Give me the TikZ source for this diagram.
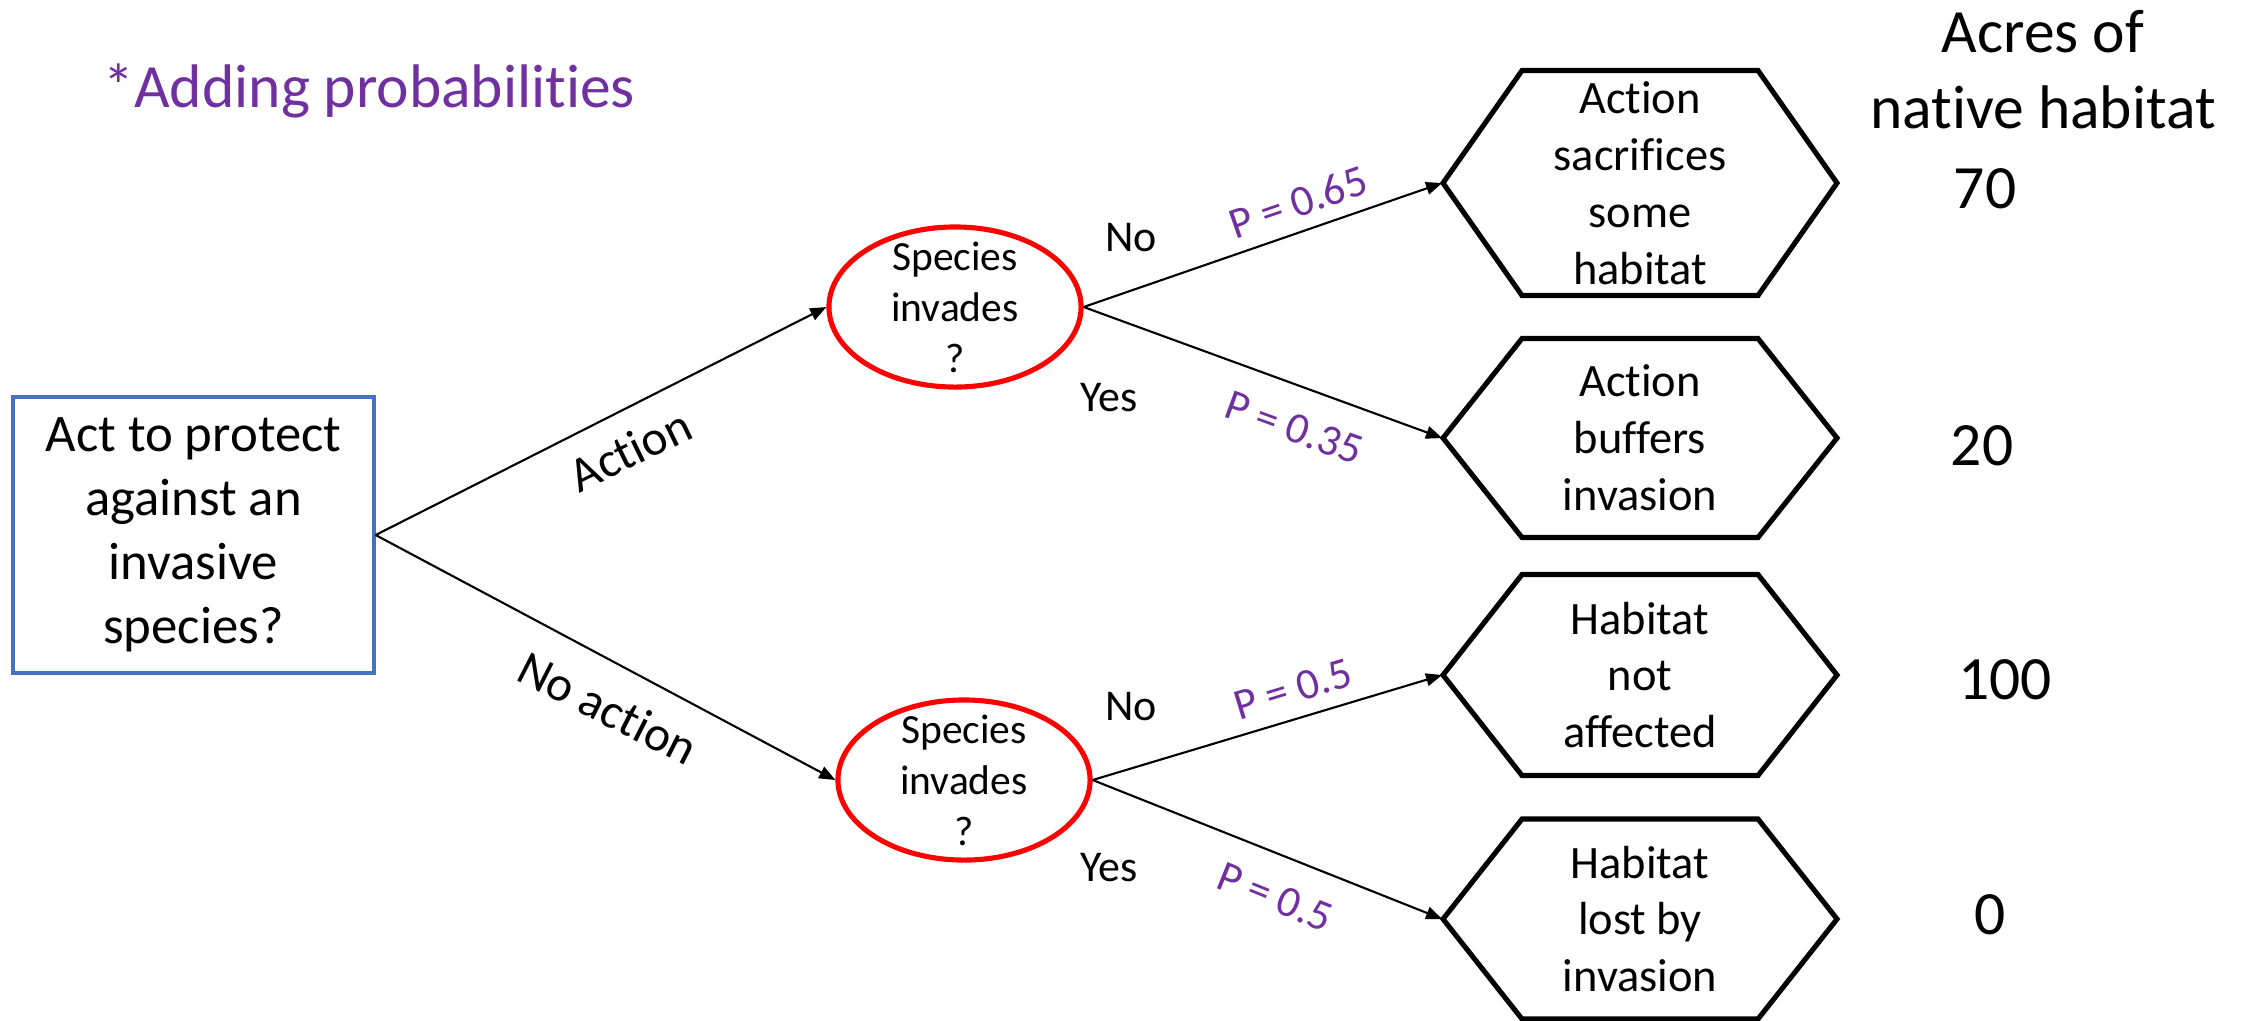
\documentclass[tikz,border=0pt]{standalone}
\usepackage{fontspec}
\setmainfont{Carlito}[Ligatures=NoCommon]
\usetikzlibrary{shapes.geometric,arrows.meta,calc}
\definecolor{accentpurple}{HTML}{7030A0}
\definecolor{boxblue}{HTML}{4472C4}
\definecolor{chancered}{HTML}{FF0000}

% hexagonal outcome outline around a node: name, half height (px units)
\newcommand\hexoutline[2]{%
  \draw[hexline] ($(#1.center)+(-197,0)$) -- ($(#1.center)+(-118,-#2)$)
    -- ($(#1.center)+(118,-#2)$) -- ($(#1.center)+(197,0)$)
    -- ($(#1.center)+(118,#2)$) -- ($(#1.center)+(-118,#2)$) -- cycle;}

\begin{document}
\begin{tikzpicture}[x=0.01cm,y=-0.01cm,
  decision/.style={draw=boxblue, line width=1.15pt, minimum width=3.60cm,
    minimum height=2.76cm, inner sep=0, align=center,
    font=\fontsize{15}{18.2}\selectfont},
  chance/.style={ellipse, draw=chancered, line width=1.45pt,
    minimum width=2.52cm, minimum height=1.60cm, inner sep=0},
  chancetext/.style={align=center, inner sep=0,
    font=\fontsize{11.8}{14.5}\selectfont},
  outcome/.style={rectangle, minimum width=3.94cm, inner sep=0, align=center,
    font=\fontsize{13.2}{16.2}\selectfont},
  hexline/.style={line width=1.45pt, line join=miter},
  conn/.style={line width=0.6pt, -{Triangle[length=4.6pt,width=3.6pt]}},
  branch/.style={font=\fontsize{14}{17}\selectfont, inner sep=0},
  answer/.style={font=\fontsize{12.5}{15}\selectfont, inner sep=0},
  prob/.style={text=accentpurple, font=\fontsize{12.5}{15}\selectfont, inner sep=0},
  payoff/.style={font=\fontsize{17.5}{21.6}\selectfont, inner sep=0, align=center},
]
\useasboundingbox (0,0) rectangle (2246,1020);

% title
\node[anchor=base west, text=accentpurple, inner sep=0,
      font=\fontsize{17.5}{21}\selectfont] (title) at (103,107) {*Adding probabilities};

% decision node
\node[decision] (root) at (193.5,535) {Act to protect\\against an\\invasive\\species?};

% chance nodes
\node[chance, label={[chancetext]center:{Species\\invades\\?}}] (c1) at (955,307) {};
\node[chance, label={[chancetext]center:{Species\\invades\\?}}] (c2) at (964,780) {};

% outcome nodes
\node[outcome, minimum height=2.25cm] (h1) at (1640,183) {Action\\sacrifices\\some\\habitat};
\node[outcome, minimum height=1.99cm] (h2) at (1640,438) {Action\\buffers\\invasion};
\node[outcome, minimum height=2.01cm] (h3) at (1640,675) {Habitat\\not\\affected};
\node[outcome, minimum height=2.00cm] (h4) at (1640,919) {Habitat\\lost by\\invasion};
\hexoutline{h1}{112.5}
\hexoutline{h2}{99.5}
\hexoutline{h3}{100.5}
\hexoutline{h4}{100}

% connectors
\draw[conn] (root.east) -- (c1.west);
\draw[conn] (root.east) -- (c2.west);
\draw[conn] (c1.east) -- (h1.west);
\draw[conn] (c1.east) -- (h2.west);
\draw[conn] (c2.east) -- (h3.west);
\draw[conn] (c2.east) -- (h4.west);

% branch labels
\node[branch, rotate=26] (lact) at (630,450) {Action};
\node[branch, rotate=-27] (lnoact) at (608,708) {No action};
\node[answer] (no1) at (1131,238) {No};
\node[answer] (yes1) at (1109,398) {Yes};
\node[answer] (no2) at (1131,707) {No};
\node[answer] (yes2) at (1109,868) {Yes};

% probabilities
\node[prob, rotate=19] (p1) at (1298,202) {P = 0.65};
\node[prob, rotate=-20] (p2) at (1294,428) {P = 0.35};
\node[prob, rotate=17] (p3) at (1293,689) {P = 0.5};
\node[prob, rotate=-22] (p4) at (1275,897) {P = 0.5};

% payoff column (base anchor sits on the last line)
\node[payoff, anchor=base] (acres) at (2043,128) {Acres of\\native habitat};
\node[payoff, anchor=base] (v1) at (1985,208) {70};
\node[payoff, anchor=base] (v2) at (1982,465) {20};
\node[payoff, anchor=base] (v3) at (2005,699) {100};
\node[payoff, anchor=base] (v4) at (1990,934) {0};
\end{tikzpicture}
\end{document}
